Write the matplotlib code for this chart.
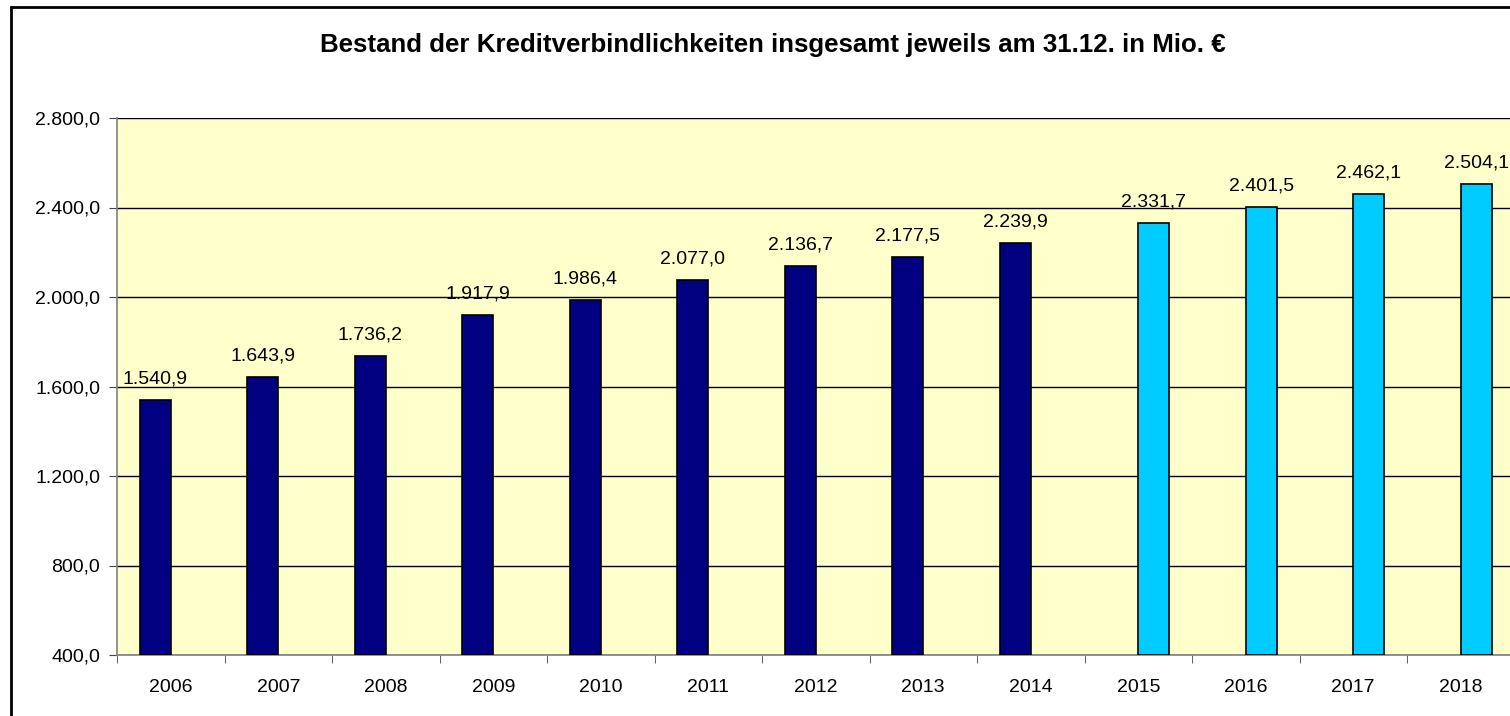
import matplotlib.pyplot as plt
import matplotlib.patches as patches
import numpy as np

plt.rcParams['font.family'] = ['Liberation Sans', 'DejaVu Sans']

# Bestand jeweils am 31.12. in Mio. Euro
jahre = ['2006', '2007', '2008', '2009', '2010', '2011', '2012',
         '2013', '2014', '2015', '2016', '2017', '2018']
ist_werte = [1540.9, 1643.9, 1736.2, 1917.9, 1986.4, 2077.0, 2136.7,
             2177.5, 2239.9, None, None, None, None]
plan_werte = [None, None, None, None, None, None, None,
              None, None, 2331.7, 2401.5, 2462.1, 2504.1]


def de_format(v, nachkomma=1):
    s = f'{v:,.{nachkomma}f}'
    return s.replace(',', 'X').replace('.', ',').replace('X', '.')


fig = plt.figure(figsize=(15.10, 7.16), dpi=100)
fig.patch.set_facecolor('white')

# Rahmen um das Diagramm
fig.patches.append(patches.Rectangle((11 / 1510, -0.1), 1.2, 1 - 7 / 716 + 0.1,
                                     transform=fig.transFigure, fill=False,
                                     edgecolor='black', linewidth=2.0))

ax = fig.add_axes([117 / 1510, 1 - 655 / 716, 1397.5 / 1510, 537 / 716])
ax.set_facecolor('#FFFFCC')

x = np.arange(len(jahre))
breite = 0.29
versatz = 0.145

for i, v in enumerate(ist_werte):
    if v is None:
        continue
    ax.bar(x[i] - versatz, v - 400, bottom=400, width=breite, color='#000080',
           edgecolor='black', linewidth=1.2, zorder=3)
    ax.annotate(de_format(v), (x[i] - versatz, v), xytext=(0, 9),
                textcoords='offset points', ha='center', va='bottom',
                fontsize=14, zorder=4)

for i, v in enumerate(plan_werte):
    if v is None:
        continue
    ax.bar(x[i] + versatz, v - 400, bottom=400, width=breite, color='#00CCFF',
           edgecolor='black', linewidth=1.2, zorder=3)
    ax.annotate(de_format(v), (x[i] + versatz, v), xytext=(0, 9),
                textcoords='offset points', ha='center', va='bottom',
                fontsize=14, zorder=4)

ax.set_xlim(-0.5, len(jahre) - 0.5)
ax.set_ylim(400, 2800)
ax.set_yticks(np.arange(400, 2801, 400))
ax.set_yticklabels([de_format(t) for t in np.arange(400, 2801, 400)], fontsize=14)
ax.yaxis.grid(True, color='black', linewidth=1.0, zorder=1)
ax.set_axisbelow(True)

# Jahreszahlen mittig, Striche an den Kategoriegrenzen
ax.set_xticks(x)
ax.set_xticklabels(jahre, fontsize=14)
ax.tick_params(axis='x', which='major', length=0, pad=17)
ax.set_xticks(np.arange(-0.5, len(jahre), 1), minor=True)
ax.tick_params(axis='x', which='minor', length=6, color='#444444', direction='out')
ax.tick_params(axis='y', length=6, color='#444444', direction='out', pad=6)

for s in ['top', 'right']:
    ax.spines[s].set_visible(False)
for s in ['left', 'bottom']:
    ax.spines[s].set_color('#808080')
    ax.spines[s].set_linewidth(1.2)

fig.text(773 / 1510, 1 - 45 / 716,
         'Bestand der Kreditverbindlichkeiten insgesamt jeweils am 31.12. in Mio. €',
         ha='center', va='center', fontsize=18.6, fontweight='bold')

fig.savefig('out.png', dpi=100)
